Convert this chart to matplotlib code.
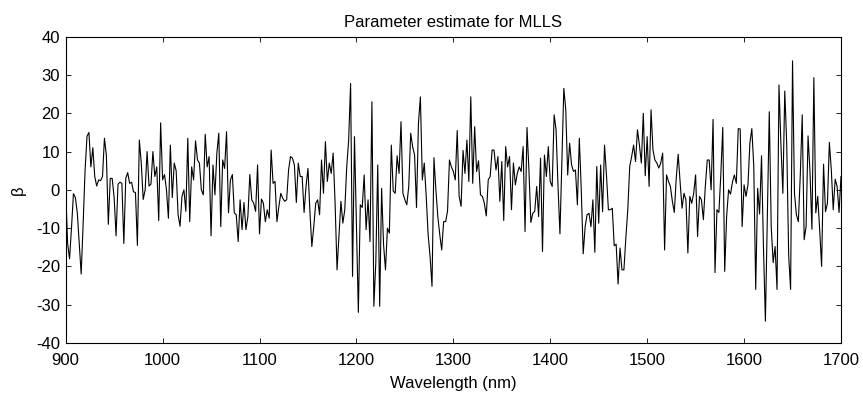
# Parameter estimate (beta) against wavelength for MLLS, redrawn from the figure.

import numpy as np
import matplotlib as mpl
import matplotlib.pyplot as plt

mpl.rcParams['font.family'] = ['Liberation Sans', 'DejaVu Sans']

# Values, 2 nm steps, one list per stretch of the x axis
beta_900 = [0, -14, -18, -10, -1, -2, -6, -14, -22, -9,
            5, 14, 15, 6, 11, 3.5, 1, 2.6, 2.4, 3.5,
            13.5, 9, -9, 3, 3, -2, -12, 1.5, 2, 1.7,
            -14, 3, 4.5, 1.7, 2, -0.5, -0.7, -14.5, 13, 7,
            -2.5, 0, 10, 1, 1.5, 10, 3.5, 6, -8, 17.5]
beta_1000 = [2.6, 4, 0, -7.4, 11.7, -2, 7, 5, -6.5, -9.5,
             -1.7, 0, -5.6, 13.5, -8.3, 6, 2.6, 12.8, 7.8, 7,
             0, -1.3, 14.5, 6, 8.7, -12, 6.5, -1.3, 9.6, 14.8,
             -9.6, 7.8, 5.6, 15.2, -6, 2.6, 4, -6, -6.5, -13.5,
             -2.6, -10.4, -3.3, -10.4, -7, 4, -2.6, -3.5, -5.6, 6.5]
beta_1100 = [-11.5, -2.4, -3.5, -8.3, -5.2, -7.4, 10.4, 1.7, 2.2, -8.3,
             -4.3, -0.9, -2.2, -3, -2.6, 5.2, 8.7, 8.3, 6.5, -3.3,
             7, 3.5, 3.5, -5.9, 0.9, 5.6, -5.6, -14.8, -9.6, -3.5,
             -2.6, -6.5, 7.8, -0.9, 12.6, 2.2, 7, 4.3, 9.6, -3.5,
             -20.9, -12, -3, -8.7, -5.2, 6, 13, 27.8, -22.6, 13.9,
             -9]
beta_1202 = [-32, -3.9, -4.6, 3.9, -10.4, -2.6, -13.5, 23, -30.4, -19,
             6.5, -30.4, 0.4, -14.3, -20.9, -10, -11.3, 11.7, -0.3, -0.9,
             8.9, 4.3, 17.8, -0.9, -2.6, -3.9, 0.9, 14.8, 11.3, 9.1,
             -4.6, 17.4, 24.3, 2.6, 7, -1.7, -11.7, -17.4, -25.2, 8.4,
             0, -7, -11.7, -15.7, -8.3, -8.3, -5.6, 7.8, 6, 4.8,
             2.6, 15.5, -1.7, -4.3, 10.3, 4.3]
beta_1314 = [13, 2.2, 24.3, 1.7, 16.5, 4.8, 7.6, -1.3, -1.7, -3.5,
             -6.8, 2.6, 3.5, 10.4, 10.4, 5.2, 8.7, -3, 7.4, -8,
             11.3, 6, 8.7, -5.2, 7, 1.3, 4.3, 6, 4.8, 11.3,
             -10.9, 16.3, 5.2, -8.5, -6.1, -5.6, 0.9, -7, 8.3, -16.1,
             9.1, 3.5, 11.3, 2.2, 0.9]
beta_1404 = [19.6, 15.7, 1, -11.5, 7.5, 26.5, 21, 3.9, 12.2, 6.5,
             4.8, 5.2, -3.9, 13.5, 0, -16.7, -9.6, -6.5, -6.1, -9.6,
             -2.6, -16.3, 6.1, -8.7, 6.5, -5.7, 11.7, 3.9, -5.2, -5.2,
             -4.8, -14.6, -14.2, -24.6, -15.2, -20.9, -20.9, -12.6, -5.2, 6.1,
             8.7, 11.7, 7.4, 15.7, 11.7, 7, 20, 3.7, 13.9, 0.9,
             20.9, 10.4, 7.8, 7, 5.7, 7, 9.6, -15.7]
beta_1520 = [3.9, 2.2, 0.9, -3, -5.9, 3, 9.3, 2, -4.8, -0.9,
             -2.6, -16.5, -1.7, -3.5, -0.9, 3.9, -12.2, -1.7, -2.6, -7.8,
             0.9, 7.8, 7.8, 0, 18.4, -21.6, -5.2, -5.9, 4, 16.3,
             -21.3, -7, 0, -1.1, 2, 3.9, 1.7, 16, 15.9, -9.6,
             1.3, -1.7, 1.3, 12.2, 16, 6.1, -26]
beta_1614 = [0.4, -6.3, 8.9, -15, -34.3, -7, 20.4, -9.6, -19, -14.8,
             -26, 27.4, 12, -0.9, 25.8, 12, -17, -26, 33.7, -1,
             -6.5, -8.3, 3.9, 19.6, -13, -9.6, 14.1, 4.8, -10.3, 29.3,
             -6, -1.7, -10.4, -20, 6.7, -5.7, -3.5, 12.4, 5.2, -5.2,
             2.8, 0.9, -5.9, 3.5]

beta = np.array(beta_900 + beta_1000 + beta_1100 + beta_1202 +
                beta_1314 + beta_1404 + beta_1520 + beta_1614)
wavelength = np.arange(900, 1701, 2)

x_ticks = [900, 1000, 1100, 1200, 1300, 1400, 1500, 1600, 1700]
y_ticks = [-40, -30, -20, -10, 0, 10, 20, 30, 40]

fig = plt.figure(figsize=(8.63, 3.94), dpi=100)
ax = fig.add_axes([0.0761, 0.1294, 0.8984, 0.7774])
ax.plot(wavelength, beta, color='k', lw=0.8)

ax.set_xlim(900, 1700)
ax.set_ylim(-40, 40)
ax.set_xticks(x_ticks)
ax.set_yticks(y_ticks)
ax.tick_params(direction='in', length=3.5, width=0.6, labelsize=12,
               top=True, right=True)
ax.tick_params(axis='x', pad=7)
ax.tick_params(axis='y', pad=4)
major_formatter = mpl.ticker.FormatStrFormatter('%g')
ax.xaxis.set_major_formatter(major_formatter)
ax.yaxis.set_major_formatter(major_formatter)
for s in ax.spines.values():
    s.set_linewidth(0.8)

ax.set_title('Parameter estimate for MLLS', fontsize=12, pad=7)
# label sits low, its descenders run off the bottom edge as in the original
ax.set_xlabel('Wavelength (nm)', fontsize=12, labelpad=6)
ax.set_ylabel('β', fontsize=12, labelpad=7)

fig.savefig('out.png', dpi=100)
